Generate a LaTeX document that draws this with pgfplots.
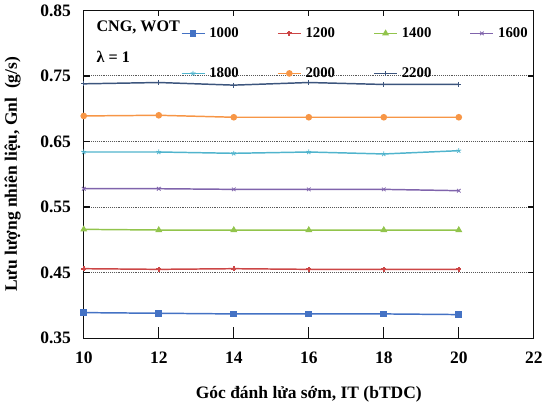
\documentclass[border=0pt]{standalone}
\usepackage{fontspec}
\setmainfont{Liberation Serif}
\usepackage{pgfplots}
\pgfplotsset{compat=1.18}
\usetikzlibrary{plotmarks}

\definecolor{c1000}{RGB}{68,114,196}
\definecolor{c1200}{RGB}{204,70,70}
\definecolor{c1400}{RGB}{146,196,76}
\definecolor{c1600}{RGB}{128,100,172}
\definecolor{c1800}{RGB}{80,180,205}
\definecolor{c2000}{RGB}{247,150,70}
\definecolor{c2200}{RGB}{60,85,125}
\definecolor{axk}{RGB}{15,15,15}

\begin{document}
\begin{tikzpicture}
\begin{axis}[
  scale only axis,
  width=335pt,
  height=244pt,
  xmin=10, xmax=22,
  ymin=0.35, ymax=0.85,
  xtick={10,12,...,22},
  ytick={0.35,0.45,0.55,0.65,0.75,0.85},
  /pgf/number format/assume math mode=true,
  tick label style={font=\fontsize{13}{15}\selectfont\bfseries},
  yticklabel style={/pgf/number format/.cd,fixed,fixed zerofill,precision=2},
  xticklabel shift=7pt,
  yticklabel shift=6pt,
  label style={font=\fontsize{13}{15}\selectfont\bfseries},
  xlabel={Góc đánh lửa sớm, IT (bTDC)},
  ylabel={Lưu lượng nhiên liệu, Gnl~~(g/s)},
  xlabel style={at={(rel axis cs:0.5,0)}, anchor=center, yshift=-42pt},
  ylabel style={at={(rel axis cs:0,0.5)}, anchor=center, yshift=53pt},
  tick align=inside,
  major tick length=4pt,
  tick style={draw=axk, line width=0.9pt},
  axis line style={draw=axk, line width=0.9pt},
  ymajorgrids,
  grid style={densely dotted, gray!70!black, thick},
  every axis plot/.append style={line width=1.1pt, mark size=1.9pt},
  legend style={draw=none, fill=none, at={(0.993,0.957)}, anchor=north east,
    font=\fontsize{11}{13}\selectfont\bfseries, legend columns=4,
    column sep=1pt, row sep=17pt, inner sep=0pt,
    /tikz/every even column/.append style={column sep=26.5pt}},
  legend image code/.code={
    \draw[mark repeat=2,mark phase=2] plot coordinates {(0cm,0cm) (0.3cm,0cm) (0.6cm,0cm)};
  },
  clip=false,
]
\addplot[color=c1000, mark=square*] coordinates {(10,0.389) (12,0.388) (14,0.387) (16,0.387) (18,0.387) (20,0.386)};
\addplot[color=c1200, mark=+, mark options={line width=1.3pt}] coordinates {(10,0.456) (12,0.455) (14,0.456) (16,0.455) (18,0.455) (20,0.455)};
\addplot[color=c1400, mark=triangle*] coordinates {(10,0.516) (12,0.515) (14,0.515) (16,0.515) (18,0.515) (20,0.515)};
\addplot[color=c1600, mark=x, mark options={line width=0.6pt}] coordinates {(10,0.578) (12,0.578) (14,0.577) (16,0.577) (18,0.577) (20,0.575)};
\addplot[color=c1800, mark=star, mark options={line width=0.6pt}] coordinates {(10,0.634) (12,0.634) (14,0.632) (16,0.634) (18,0.631) (20,0.636)};
\addplot[color=c2000, mark=*] coordinates {(10,0.689) (12,0.690) (14,0.687) (16,0.687) (18,0.687) (20,0.687)};
\addplot[color=c2200, mark=+, mark options={line width=0.6pt}] coordinates {(10,0.738) (12,0.740) (14,0.736) (16,0.740) (18,0.737) (20,0.737)};
\legend{1000,1200,1400,1600,1800,2000,2200}
\node[anchor=west, font=\fontsize{12}{14}\selectfont\bfseries] at (rel axis cs:0.018,0.948) {CNG, WOT};
\node[anchor=west, font=\fontsize{12}{14}\selectfont\bfseries] at (rel axis cs:0.018,0.858) {λ = 1};
% frame and inward ticks
\draw[draw=axk, line width=0.9pt] (rel axis cs:0,0) rectangle (rel axis cs:1,1);
\pgfplotsinvokeforeach{12,14,16,18,20}{
  \draw[draw=axk, line width=0.9pt] (axis cs:#1,0.35) -- (axis cs:#1,0.3665);
}
\pgfplotsinvokeforeach{0.45,0.55,0.65,0.75}{
  \draw[draw=axk, line width=0.9pt] (axis cs:10,#1) -- (axis cs:10.16,#1);
}
\end{axis}
\end{tikzpicture}
\end{document}
